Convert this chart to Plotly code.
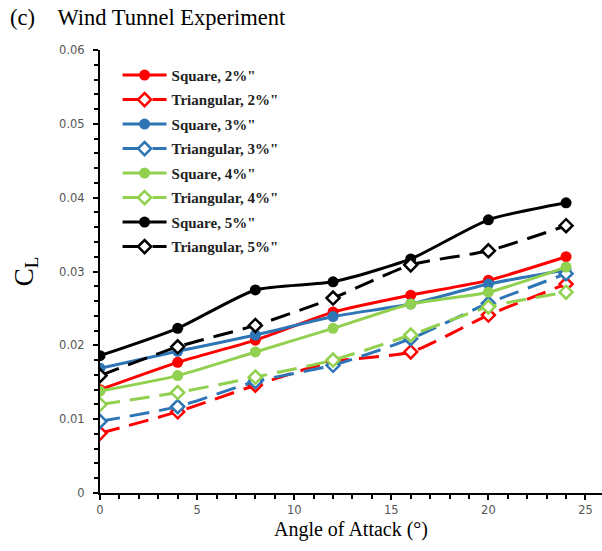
import plotly.graph_objects as go

angles = [0, 4, 8, 12, 16, 20, 24]

sq2 = [0.0140, 0.0177, 0.0207, 0.0245, 0.0268, 0.0288, 0.0320]
tr2 = [0.0081, 0.0110, 0.0146, 0.0178, 0.0191, 0.0241, 0.0283]
sq3 = [0.0169, 0.0192, 0.0214, 0.0239, 0.0256, 0.0283, 0.0302]
tr3 = [0.0097, 0.0117, 0.0151, 0.0173, 0.0209, 0.0257, 0.0297]
sq4 = [0.0138, 0.0159, 0.0191, 0.0223, 0.0256, 0.0272, 0.0306]
tr4 = [0.0120, 0.0136, 0.0157, 0.0180, 0.0214, 0.0252, 0.0272]
sq5 = [0.0186, 0.0223, 0.0275, 0.0286, 0.0317, 0.0370, 0.0393]
tr5 = [0.0159, 0.0198, 0.0227, 0.0264, 0.0309, 0.0328, 0.0362]

names = ['Square, 2%"', 'Triangular, 2%"', 'Square, 3%"', 'Triangular, 3%"',
         'Square, 4%"', 'Triangular, 4%"', 'Square, 5%"', 'Triangular, 5%"']
series = [sq2, tr2, sq3, tr3, sq4, tr4, sq5, tr5]
colors = ['#FF0000', '#FF0000', '#2E75B6', '#2E75B6', '#92D050', '#92D050', '#000000', '#000000']

fig = go.Figure()
for i, (nm, ys, c) in enumerate(zip(names, series, colors)):
    tri = (i % 2 == 1)
    fig.add_trace(go.Scatter(
        x=angles, y=ys, name=nm, mode='lines+markers', legendgroup=str(i),
        line=dict(color=c, width=3, shape='spline', smoothing=0.6,
                  dash='20px,10px' if tri else 'solid'),
        marker=dict(symbol='diamond' if tri else 'circle',
                    size=10 if tri else 11,
                    color='white' if tri else c,
                    line=dict(color=c, width=2.5 if tri else 0)),
    ))

fig.update_layout(
    width=602, height=551,
    margin=dict(l=100, r=0, t=50, b=58),
    paper_bgcolor='white', plot_bgcolor='white',
    showlegend=True,
    legend=dict(x=0.035, y=0.98, xanchor='left', yanchor='top',
                font=dict(family='Liberation Serif', size=15, color='#222', weight='bold'),
                tracegroupgap=2, bgcolor='rgba(0,0,0,0)', itemwidth=44),
    annotations=[dict(text='(c)\u00a0\u00a0\u00a0\u00a0Wind Tunnel Experiment', xref='paper', yref='paper',
                      x=-92/502, y=1 + 32/443, xanchor='left', yanchor='middle', showarrow=False,
                      font=dict(family='Liberation Serif', size=22.5, color='black'))],
)
fig.update_xaxes(range=[0, 25.85], tickvals=[0, 5, 10, 15, 20, 25], ticks='outside', ticklen=5,
                 tickwidth=2, tickcolor='black', showline=True, linecolor='black', linewidth=2,
                 showgrid=False, zeroline=False,
                 minor=dict(dtick=1, ticks='outside', ticklen=4, tickwidth=2, tickcolor='black'),
                 tickfont=dict(family='DejaVu Sans', size=11.5, color='#555'),
                 title=dict(text='Angle of Attack (°)', standoff=6,
                            font=dict(family='Liberation Serif', size=20, color='black')))
fig.update_yaxes(range=[0, 0.06], tickvals=[0, 0.01, 0.02, 0.03, 0.04, 0.05, 0.06],
                 ticktext=['0', '0.01', '0.02', '0.03', '0.04', '0.05', '0.06'],
                 ticks='outside', ticklen=5, tickwidth=2, tickcolor='black', showline=True,
                 linecolor='black', linewidth=2, showgrid=False, zeroline=False,
                 ticklabelstandoff=6,
                 minor=dict(dtick=0.002, ticks='outside', ticklen=4, tickwidth=2, tickcolor='black'),
                 tickfont=dict(family='DejaVu Sans', size=11.5, color='#555'),
                 title=dict(text='C<sub>L</sub>', standoff=18,
                            font=dict(family='Liberation Serif', size=27, color='black')))

fig.write_html('out.html')
